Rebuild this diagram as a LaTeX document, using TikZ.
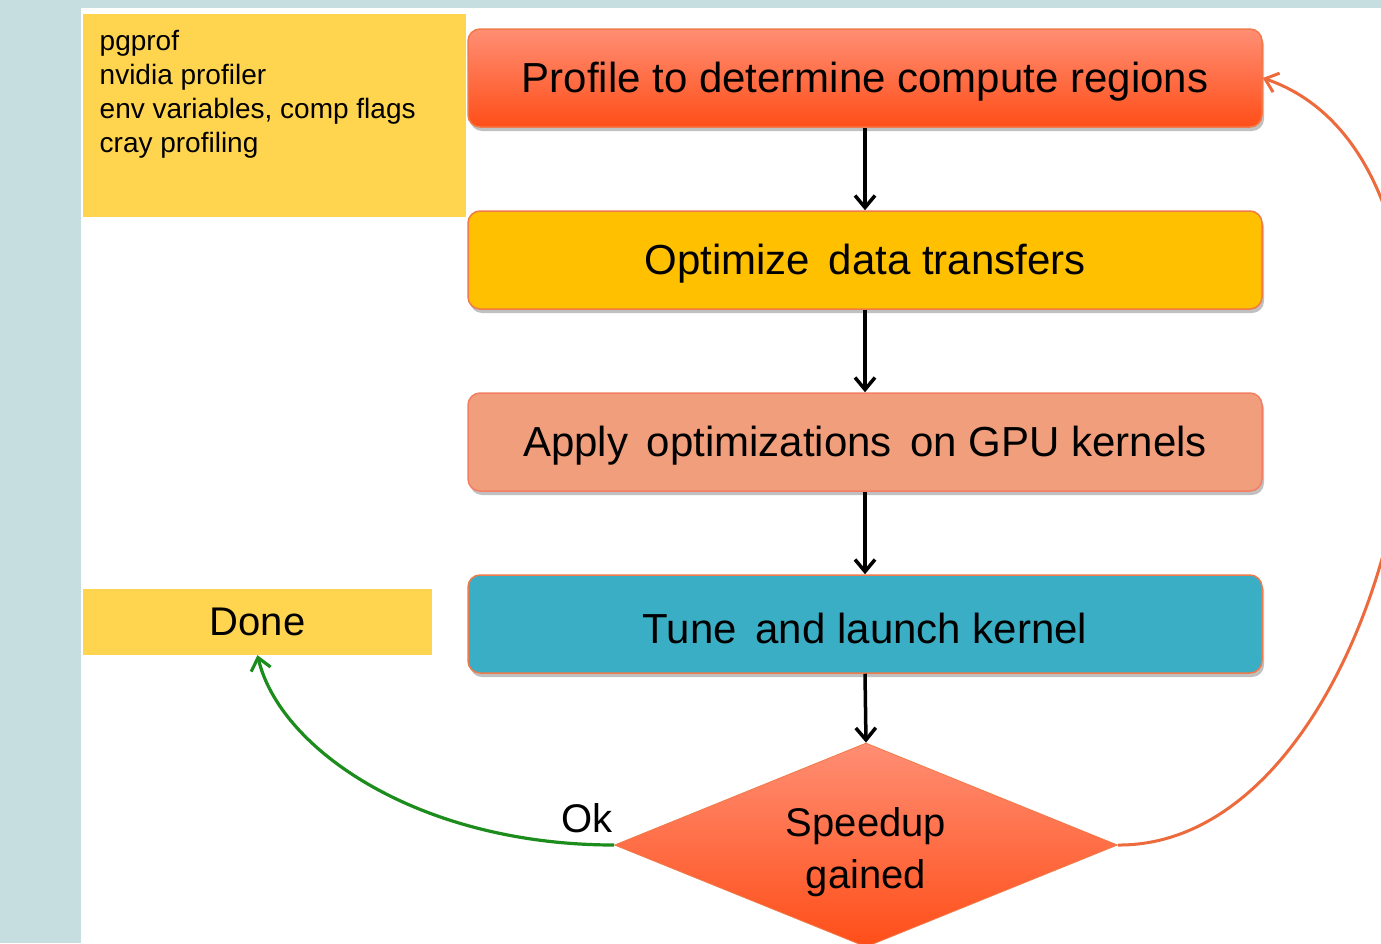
\documentclass[tikz,border=0pt]{standalone}
\usepackage{fontspec}
\setmainfont{Liberation Sans}
\usetikzlibrary{shapes.geometric,shadows,arrows.meta}
\definecolor{bgstrip}{HTML}{C7DEE1}
\definecolor{noteyel}{HTML}{FFD54F}
\definecolor{boxborder}{HTML}{F07A4A}
\definecolor{redtop}{HTML}{FF8E74}
\definecolor{redbot}{HTML}{FF4E18}
\definecolor{optyel}{HTML}{FFC000}
\definecolor{salmon}{HTML}{F19E7C}
\definecolor{teal}{HTML}{3AAEC4}
\definecolor{loopcol}{HTML}{EC6A3C}
\definecolor{okgreen}{HTML}{1C8C1C}
\newcommand{\lowertext}[2]{\raisebox{-#1}[\height][\depth]{#2}}
\tikzset{
  stepbox/.style={draw=boxborder, line width=1.5pt, rounded corners=12pt,
    minimum width=794pt, minimum height=98pt, inner sep=0pt,
    font=\fontsize{42}{50}\selectfont,
    drop shadow={shadow xshift=2pt, shadow yshift=-4pt, opacity=0.35, fill=black!70}},
  flowarrow/.style={draw=black, line width=3.5pt, -{Straight Barb[length=12pt,width=20pt,line width=3.5pt]}},
}
\begin{document}
\begin{tikzpicture}[x=1pt,y=-1pt]
\useasboundingbox (0,0) rectangle (1381,943);
\fill[white] (0,0) rectangle (1381,943);
\fill[bgstrip] (0,0) rectangle (81,943);
\fill[bgstrip] (0,0) rectangle (1381,8);

\node[fill=noteyel, anchor=north west, inner xsep=16pt, inner ysep=0pt,
      minimum width=383pt, minimum height=203pt, align=left,
      font=\fontsize{28}{34}\selectfont] (notes) at (83,14)
  {\parbox[t][190pt][t]{350pt}{\vspace*{10pt}pgprof\\nvidia profiler\\env variables, comp flags\\cray profiling}};

\node[stepbox, top color=redtop, bottom color=redbot] (profile) at (865,78) {\lowertext{4pt}{Profile to determine compute regions}};
\node[stepbox, fill=optyel] (optimize) at (865,260) {\lowertext{4pt}{Optimize\, data transfers}};
\node[stepbox, fill=salmon, draw=salmon!80!red] (apply) at (865,442) {\lowertext{4pt}{Apply\, optimizations\, on GPU kernels}};
\node[stepbox, fill=teal] (tune) at (865,624) {\lowertext{4pt}{Tune\, and launch kernel}};

\node[diamond, draw=boxborder, line width=0.8pt, top color=redtop, bottom color=redbot,
      minimum width=503pt, minimum height=204pt, inner sep=0pt, aspect=2.46,
      font=\fontsize{40}{52}\selectfont] (speedup) at (866,845)
  {\lowertext{7pt}{\begin{tabular}{@{}c@{}}Speedup\\gained\end{tabular}}};

\node[fill=noteyel, minimum width=349pt, minimum height=66pt, inner sep=0pt,
      font=\fontsize{40}{48}\selectfont] (done) at (257.5,622) {Done};

\draw[flowarrow] (profile.south) -- (optimize.north);
\draw[flowarrow] (optimize.south) -- (apply.north);
\draw[flowarrow] (apply.south) -- (tune.north);
\draw[flowarrow] (tune.south) -- (speedup.north);

\draw[okgreen, line width=3.2pt, -{Straight Barb[length=12pt,width=20pt,line width=3.2pt]}]
  (speedup.west) .. controls (420,845) and (280,750) .. (done.south);
\node[font=\fontsize{40}{48}\selectfont] (ok) at (587,818) {Ok};

\draw[loopcol, line width=3pt, -{Straight Barb[length=12pt,width=20pt,line width=3pt]}]
  (speedup.east) .. controls (1400,847) and (1530,170) .. (profile.east);
\end{tikzpicture}
\end{document}
